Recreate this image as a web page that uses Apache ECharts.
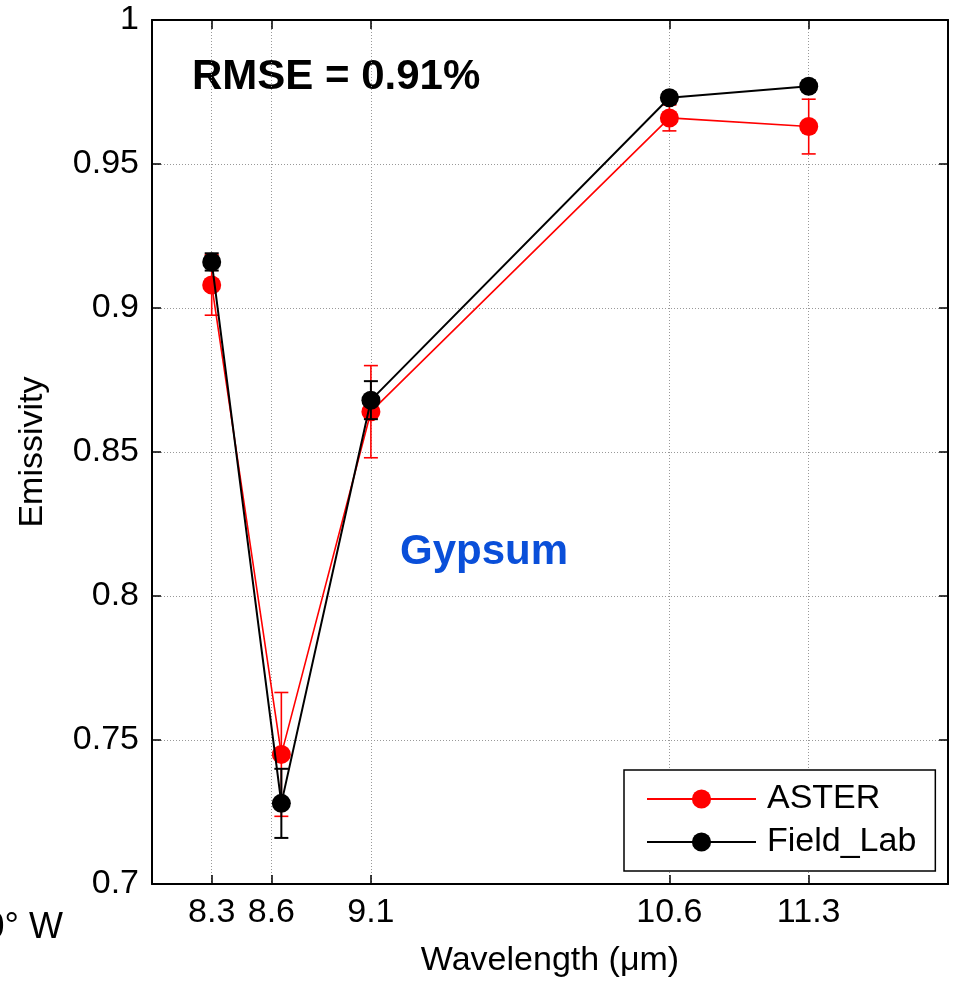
<!DOCTYPE html>
<html>
<head>
<meta charset="utf-8">
<script src="https://cdn.jsdelivr.net/npm/echarts@6/dist/echarts.min.js"></script>
<style>
  html, body { margin: 0; padding: 0; background: #fff; }
  #chart { width: 954px; height: 983px; }
</style>
</head>
<body>
<div id="chart"></div>
<script>
// Band centre wavelengths (µm) and the rounded labels shown on the axis
const wavelengths = [8.3, 8.65, 9.1, 10.6, 11.3];
const tickLabels = [8.3, 8.6, 9.1, 10.6, 11.3];

// Emissivity per band with one-sigma spread
const asterValues = [0.908, 0.745, 0.864, 0.966, 0.963];
const asterErrors = [0.0105, 0.0215, 0.016, 0.0045, 0.0095];
const fieldValues = [0.916, 0.728, 0.868, 0.973, 0.977];
const fieldErrors = [0.003, 0.012, 0.0066, 0.002, 0.002];

const FONT = '"Liberation Sans", Arial, Helvetica, sans-serif';
const RED = '#ff0000';
const BLACK = '#000000';

function pairs(values) {
  return wavelengths.map((w, i) => [w, values[i]]);
}
function bars(values, errors) {
  return wavelengths.map((w, i) => [w, values[i] - errors[i], values[i] + errors[i]]);
}
function errorBarRenderer(color, width) {
  return function (params, api) {
    const x = api.value(0);
    const lo = api.coord([x, api.value(1)]);
    const hi = api.coord([x, api.value(2)]);
    const hw = 7;
    const style = { stroke: color, lineWidth: width, fill: null };
    return {
      type: 'group',
      children: [
        { type: 'line', shape: { x1: hi[0], y1: hi[1], x2: lo[0], y2: lo[1] }, style },
        { type: 'line', shape: { x1: hi[0] - hw, y1: hi[1], x2: hi[0] + hw, y2: hi[1] }, style },
        { type: 'line', shape: { x1: lo[0] - hw, y1: lo[1], x2: lo[0] + hw, y2: lo[1] }, style }
      ]
    };
  };
}

const chart = echarts.init(document.getElementById('chart'), null, { renderer: 'canvas' });

const gridLine = { show: true, lineStyle: { color: '#999999', width: 1, type: [1, 2] } };
const frameLine = { show: true, onZero: false, lineStyle: { color: '#000', width: 2 } };
const frameTick = { show: true, inside: true, length: 9, lineStyle: { color: '#000', width: 1.5 } };

chart.setOption({
  animation: false,
  backgroundColor: '#ffffff',
  textStyle: { fontFamily: FONT },
  grid: { left: 152, right: 6, top: 20, bottom: 96, containLabel: false },
  xAxis: [{
    type: 'value',
    min: 8,
    max: 12,
    name: 'Wavelength (\u03bcm)',
    nameLocation: 'middle',
    nameGap: 60,
    nameTextStyle: { fontSize: 34, color: '#000', fontFamily: FONT },
    axisLine: frameLine,
    axisTick: Object.assign({ customValues: tickLabels }, frameTick),
    axisLabel: {
      customValues: tickLabels,
      fontSize: 34, color: '#000', margin: 12, fontFamily: FONT,
      formatter: v => String(v)
    },
    splitLine: gridLine
  }, {
    type: 'value',
    position: 'top',
    min: 8,
    max: 12,
    axisLine: frameLine,
    axisTick: Object.assign({ customValues: tickLabels }, frameTick),
    axisLabel: { show: false },
    splitLine: { show: false }
  }],
  yAxis: [{
    type: 'value',
    min: 0.7,
    max: 1,
    interval: 0.05,
    name: 'Emissivity',
    nameLocation: 'middle',
    nameGap: 102,
    nameTextStyle: { fontSize: 34, color: '#000', fontFamily: FONT },
    axisLine: frameLine,
    axisTick: frameTick,
    axisLabel: {
      fontSize: 34, color: '#000', margin: 13, fontFamily: FONT,
      formatter: v => String(Math.round(v * 100) / 100)
    },
    splitLine: gridLine
  }, {
    type: 'value',
    position: 'right',
    min: 0.7,
    max: 1,
    interval: 0.05,
    axisLine: frameLine,
    axisTick: frameTick,
    axisLabel: { show: false },
    splitLine: { show: false }
  }],
  legend: {
    left: 624,
    top: 770,
    orient: 'vertical',
    padding: [12, 19, 12, 22],
    itemWidth: 109,
    itemHeight: 24,
    itemGap: 9,
    borderColor: '#000',
    borderWidth: 1.5,
    backgroundColor: '#fff',
    textStyle: { fontSize: 34, color: '#000', fontFamily: FONT, lineHeight: 34, padding: [0, 0, 0, 6] },
    data: ['ASTER', 'Field_Lab']
  },
  series: [
    {
      name: 'ASTER-err',
      type: 'custom',
      renderItem: errorBarRenderer(RED, 1.6),
      data: bars(asterValues, asterErrors),
      encode: { x: 0, y: [1, 2] },
      z: 2,
      silent: true
    },
    {
      name: 'ASTER',
      type: 'line',
      data: pairs(asterValues),
      symbol: 'circle',
      symbolSize: 19,
      itemStyle: { color: RED },
      lineStyle: { color: RED, width: 1.6 },
      z: 3
    },
    {
      name: 'Field_Lab-err',
      type: 'custom',
      renderItem: errorBarRenderer(BLACK, 2),
      data: bars(fieldValues, fieldErrors),
      encode: { x: 0, y: [1, 2] },
      z: 4,
      silent: true
    },
    {
      name: 'Field_Lab',
      type: 'line',
      data: pairs(fieldValues),
      symbol: 'circle',
      symbolSize: 19,
      itemStyle: { color: BLACK },
      lineStyle: { color: BLACK, width: 2 },
      z: 5
    }
  ],
  graphic: [
    {
      type: 'text',
      left: 192,
      top: 56,
      style: { text: 'RMSE = 0.91%', font: 'bold 42px ' + FONT, fill: '#000' }
    },
    {
      type: 'text',
      left: 400,
      top: 531,
      style: { text: 'Gypsum', font: 'bold 42px ' + FONT, fill: '#0a4fd9' }
    },
    {
      type: 'text',
      right: 891,
      top: 910,
      style: { text: '0\u00b0 W', font: '36px ' + FONT, fill: '#000' }
    }
  ]
});
</script>
</body>
</html>
